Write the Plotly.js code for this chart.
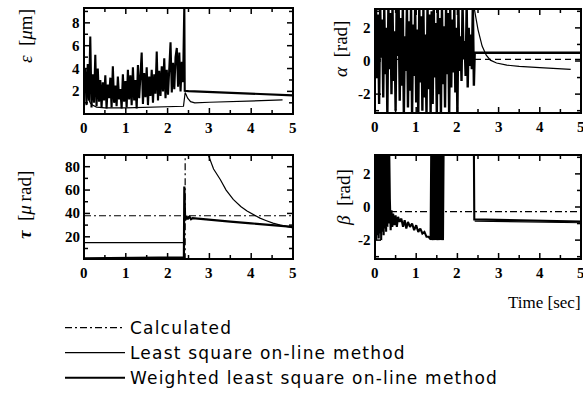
<!DOCTYPE html>
<html><head><meta charset="utf-8">
<script src="https://cdn.plot.ly/plotly-3.0.1.min.js"></script>
<style>html,body{margin:0;padding:0;background:#fff}#chart{width:583px;height:411px}
.legendtext{letter-spacing:1.2px}</style>
</head><body><div id="chart"></div>
<script>
// ---------- DATA ----------
// epsilon [um] : weighted least square (noisy, then steady)
const epsWtdT = [0,0.03,0.06,0.09,0.12,0.15,0.18,0.21,0.24,0.27,
0.3,0.33,0.36,0.39,0.42,0.45,0.48,0.51,0.54,0.57,
0.6,0.63,0.66,0.69,0.72,0.75,0.78,0.81,0.84,0.87,
0.9,0.93,0.96,0.99,1.02,1.05,1.08,1.11,1.14,1.17,
1.2,1.23,1.26,1.29,1.32,1.35,1.38,1.41,1.44,1.47,
1.5,1.53,1.56,1.59,1.62,1.65,1.68,1.71,1.74,1.77,
1.8,1.83,1.86,1.89,1.92,1.95,1.98,2.01,2.04,2.07,
2.1,2.13,2.16,2.19,2.22,2.25,2.28,2.31,2.34,2.37,
2.4,2.41,2.5,3.0,3.5,4.0,4.5,5.0];
const epsWtdV = [2.0,4.0,0.8,4.4,1.2,6.8,0.6,3.5,1.0,5.2,
0.7,4.0,1.1,3.0,0.6,2.8,1.2,3.4,0.5,2.6,
1.4,3.2,0.6,4.2,1.0,2.5,0.7,3.3,1.3,2.2,
0.5,3.5,1.1,2.9,0.6,3.9,1.3,3.4,0.8,4.1,
1.2,3.0,0.5,4.3,1.4,3.2,5.4,0.9,3.6,1.5,
4.1,0.8,3.3,1.6,3.9,1.0,3.5,1.8,5.5,1.2,
3.8,1.6,4.2,2.0,4.9,1.4,3.9,1.7,4.8,6.3,
1.9,4.5,2.2,5.0,5.8,2.4,5.4,2.0,4.6,2.8,
9.6,2.05,2.02,1.95,1.88,1.8,1.72,1.65];
const epsLsT = [0.05,0.1,0.15,0.2,0.3,0.5,1.0,1.5,2.0,2.38,2.42,2.48,2.55,2.65,3.0,3.5,4.0,4.5,4.75];
const epsLsV = [2.2,1.4,1.0,0.8,0.62,0.55,0.55,0.6,0.65,0.7,1.9,1.4,1.1,1.0,1.05,1.12,1.18,1.22,1.25];

// alpha [rad]
const alpWtdT = [0,0.025,0.05,0.075,0.1,0.125,0.15,0.175,0.2,0.225,
0.25,0.275,0.3,0.325,0.35,0.375,0.4,0.425,0.45,0.475,
0.5,0.525,0.55,0.575,0.6,0.625,0.65,0.675,0.7,0.725,
0.75,0.775,0.8,0.825,0.85,0.875,0.9,0.925,0.95,0.975,
1,1.025,1.05,1.075,1.1,1.125,1.15,1.175,1.2,1.225,
1.25,1.275,1.3,1.325,1.35,1.375,1.4,1.425,1.45,1.475,
1.5,1.525,1.55,1.575,1.6,1.625,1.65,1.675,1.7,1.725,
1.75,1.775,1.8,1.825,1.85,1.875,1.9,1.925,1.95,1.975,
2,2.025,2.05,2.075,2.1,2.125,2.15,2.175,2.2,2.225,
2.25,2.275,2.3,2.325,2.35,2.375,2.4,2.42,5.0];
const alpWtdV = [0.5,3.3,-1.0,2.8,-2.6,3.4,0.2,2.5,-2.2,3.2,
-0.8,2.0,-3.3,3.4,-0.5,2.9,-2.0,3.3,-1.2,1.8,
-3.0,3.4,0.3,3.1,-2.4,2.6,-1.5,3.4,-3.3,1.5,
-0.6,3.3,-2.8,2.4,-1.8,3.4,-3.3,2.2,-0.9,3.3,
-2.5,1.9,-3.3,3.4,-1.3,2.7,-3.0,3.2,-2.2,1.6,
-3.3,3.4,-1.7,2.8,-3.3,3.0,-2.6,3.4,-1.0,2.3,
-3.3,3.3,-2.0,2.6,-3.3,3.4,-1.4,2.1,-2.8,3.4,
-0.8,2.9,-3.3,3.3,-1.6,2.5,-0.7,3.4,-1.9,2.0,
-3.3,3.2,-0.6,1.5,-1.2,3.4,0.1,1.2,-0.9,3.4,
-1.6,2.0,-0.3,1.6,-0.5,3.4,-1.5,0.5,0.5];
const alpLsT = [2.4,2.5,2.6,2.7,2.8,2.95,3.2,3.5,4.0,4.4,4.75];
const alpLsV = [3.3,1.9,0.9,0.35,0.05,-0.12,-0.25,-0.33,-0.4,-0.45,-0.5];
const alpCalcT = [0,5];
const alpCalcV = [0.1,0.1];

// tau [urad]
const tauCalcT = [0,5];
const tauCalcV = [38,38];
const tauSwitchT = [2.42,2.42];
const tauSwitchV = [0,90];
const tauLsT = [0,2.4,null,2.9,2.98,3.1,3.26,3.4,3.57,3.75,3.9,4.05,4.21,4.35,4.52,4.7,4.88,5.0];
const tauLsV = [15,15,null,97,89,78,69,60,52,46,42,39,36,34,31.7,30,28.3,27.6];
const tauWtdT = [0,0.5,1.0,1.5,2.0,2.39,2.4,2.42,2.45,2.48,2.52,2.56,2.6,3.0,3.5,4.0,4.5,5.0];
const tauWtdV = [1.6,1.8,2.0,2.2,2.3,2.4,63,34,38,35,37.5,35,36,34.5,33,31.5,29.8,28.5];

// beta [rad]
const betWtdT = [0,0.015,0.03,0.045,0.06,0.075,0.09,0.105,0.12,0.135,0.15,0.165,
0.18,0.195,0.21,0.225,0.24,0.255,0.27,0.285,0.3,0.315,0.33,0.345,
0.36,0.38,0.4,0.42,0.44,0.47,0.5,0.53,0.56,0.6,0.64,0.68,0.72,0.76,0.8,0.85,
0.9,0.95,1.0,1.05,1.1,1.15,1.2,1.25,1.3,1.35,
1.365,1.38,1.395,1.41,1.425,1.44,1.455,1.47,1.485,1.5,1.515,1.53,1.545,1.56,
1.575,1.59,1.605,1.62,1.635,1.65,1.665,2.4,2.41,3.0,4.0,5.0];
const betWtdV = [-1.9,3.5,-2.0,3.5,-1.7,3.5,-1.9,3.5,-1.6,3.5,-2.0,3.5,
-1.5,3.5,-1.7,3.5,-1.3,3.5,-1.5,3.5,-1.2,3.5,-1.0,3.5,
0.5,-1.4,-0.2,-1.2,-0.4,-1.1,-0.5,-1.2,-0.6,-0.9,-0.7,-1.2,-0.8,-1.3,-0.9,-1.2,
-1.0,-1.4,-1.1,-1.5,-1.3,-1.6,-1.5,-1.8,-1.8,-1.95,
3.5,-2.0,3.5,-2.0,3.5,-2.0,3.5,-2.0,3.5,-2.0,3.5,-2.0,3.5,-2.0,
3.5,-2.0,3.5,-2.0,3.5,-2.0,3.5,3.5,-0.75,-0.78,-0.83,-0.88];
const betLsT = [2.42,3.0,4.0,5.0];
const betLsV = [-0.85,-0.88,-0.92,-0.95];
const betCalcT = [0,5];
const betCalcV = [-0.28,-0.28];

// tick labels
const xTickVals = [0,1,2,3,4,5];
const xTickText = ['0','1','2','3','4','5'];
const xMinorVals = [0.5,1.5,2.5,3.5,4.5];
const epsTickVals = [2,4,6,8];
const epsTickText = ['2','4','6','8'];
const epsMinorVals = [1,3,5,7,9];
const angTickVals = [-2,0,2];
const angTickText = ['-2','0','2'];
const angMinorVals = [-3,-1,1,3];
const tauTickVals = [20,40,60,80];
const tauTickText = ['20','40','60','80'];
const tauMinorVals = [10,30,50,70,90];

const seriesNames = ['Calculated','Least square on-line method','Weighted least square on-line method'];

// ---------- STYLE / LAYOUT ----------
const W = 583, H = 411;
const dx = (a,b)=>[a/W,b/W];
const dy = (top,bottom)=>[1-bottom/H,1-top/H];
const SERIF = '"Liberation Serif", "Times New Roman", serif';
const tickFont = {family:SERIF, size:15, color:'#000', weight:700};
const calcLine = {color:'#000', width:1.2, dash:'7px,3px,2px,3px'};
const lsLine = {color:'#000', width:1.2};
const wLine = {color:'#000', width:2.2};
const noiseLine = {color:'#000', width:2.1};

function tr(x,y,xa,ya,line,group,name,show){
  return {type:'scatter', mode:'lines', x, y, xaxis:xa, yaxis:ya, line, legendgroup:group,
          name, showlegend:!!show, hoverinfo:'skip'};
}
const data = [
  tr(tauCalcT,tauCalcV,'x3','y3',calcLine,'calc',seriesNames[0],true),
  tr(tauLsT,tauLsV,'x3','y3',lsLine,'ls',seriesNames[1],true),
  tr(tauWtdT,tauWtdV,'x3','y3',wLine,'wls',seriesNames[2],true),
  tr(tauSwitchT,tauSwitchV,'x3','y3',calcLine,'calc',seriesNames[0],false),
  tr(epsLsT,epsLsV,'x','y',lsLine,'ls',seriesNames[1],false),
  tr(epsWtdT,epsWtdV,'x','y',noiseLine,'wls',seriesNames[2],false),
  tr(alpCalcT,alpCalcV,'x2','y2',{color:'#000',width:1.3,dash:'6px,4px'},'calc',seriesNames[0],false),
  tr(alpLsT,alpLsV,'x2','y2',lsLine,'ls',seriesNames[1],false),
  tr(alpWtdT,alpWtdV,'x2','y2',{color:'#000',width:2.4},'wls',seriesNames[2],false),
  tr(betCalcT,betCalcV,'x4','y4',calcLine,'calc',seriesNames[0],false),
  tr(betLsT,betLsV,'x4','y4',lsLine,'ls',seriesNames[1],false),
  tr(betWtdT,betWtdV,'x4','y4',noiseLine,'wls',seriesNames[2],false)
];

function axis(domain, anchor, range){
  return {domain, anchor, range, ticks:'', showticklabels:false, showline:false,
    showgrid:false, zeroline:false, fixedrange:true};
}

// panel frames, inside ticks (top/bottom/left/right) and tick labels, placed through the axes
const panels = [
  {xa:'x',  ya:'y',  wpx:209, hpx:106, yT:epsTickVals, yTT:epsTickText, yM:epsMinorVals},
  {xa:'x2', ya:'y2', wpx:206, hpx:104, yT:angTickVals, yTT:angTickText, yM:angMinorVals},
  {xa:'x3', ya:'y3', wpx:209, hpx:104, yT:tauTickVals, yTT:tauTickText, yM:tauMinorVals},
  {xa:'x4', ya:'y4', wpx:206, hpx:104, yT:angTickVals, yTT:angTickText, yM:angMinorVals}
];
const shapes = [], tickAnn = [];
const tickLine = {color:'#000', width:1.5};
panels.forEach(p=>{
  const xd = p.xa+' domain', yd = p.ya+' domain';
  shapes.push({type:'rect', xref:xd, yref:yd, x0:0, x1:1, y0:0, y1:1,
               line:{color:'#000', width:2}, fillcolor:'rgba(0,0,0,0)', layer:'above'});
  const xt = (vals,len)=>vals.forEach(v=>{
    const f = len/p.hpx;
    shapes.push({type:'line', xref:p.xa, yref:yd, x0:v, x1:v, y0:0, y1:f, line:tickLine, layer:'above'});
    shapes.push({type:'line', xref:p.xa, yref:yd, x0:v, x1:v, y0:1, y1:1-f, line:tickLine, layer:'above'});
  });
  const yt = (vals,len)=>vals.forEach(v=>{
    const f = len/p.wpx;
    shapes.push({type:'line', xref:xd, yref:p.ya, x0:0, x1:f, y0:v, y1:v, line:tickLine, layer:'above'});
    shapes.push({type:'line', xref:xd, yref:p.ya, x0:1, x1:1-f, y0:v, y1:v, line:tickLine, layer:'above'});
  });
  xt(xTickVals,6); xt(xMinorVals,4); yt(p.yT,6); yt(p.yM,4);
  xTickVals.forEach((v,i)=>tickAnn.push({text:xTickText[i], xref:p.xa, yref:yd, x:v, y:0,
    xanchor:'center', yanchor:'top', yshift:-4, showarrow:false, font:tickFont}));
  p.yT.forEach((v,i)=>tickAnn.push({text:p.yTT[i], xref:xd, yref:p.ya, x:0, y:v,
    xanchor:'right', yanchor:'middle', xshift:-2, showarrow:false, font:tickFont}));
});

const titleFont = {family:SERIF, size:19, color:'#000'};
function yTitle(text, xpx, ypx){
  return {text, xref:'paper', yref:'paper', x:xpx/W, y:1-ypx/H, xanchor:'center', yanchor:'middle',
          textangle:-90, showarrow:false, font:titleFont};
}
const layout = {
  width:W, height:H, margin:{l:0,r:0,t:0,b:0}, paper_bgcolor:'#fff', plot_bgcolor:'#fff',
  font:{family:SERIF, size:15, color:'#000'},
  showlegend:true,
  xaxis: axis(dx(84,293),'y',[0,5]),
  yaxis: axis(dy(8,114),'x',[0.02,9.3]),
  xaxis2: axis(dx(375,581),'y2',[0,5]),
  yaxis2: axis(dy(9,113),'x2',[-3.14,3.14]),
  xaxis3: axis(dx(84,293),'y3',[0,5]),
  yaxis3: axis(dy(155,259),'x3',[1,90]),
  xaxis4: axis(dx(375,581),'y4',[0,5]),
  yaxis4: axis(dy(155,259),'x4',[-3.14,3.14]),
  legend:{x:60/W, y:1-310/H, xanchor:'left', yanchor:'top', bgcolor:'rgba(0,0,0,0)',
          font:{family:'"DejaVu Sans", sans-serif', size:17, color:'#000'},
          itemwidth:60, tracegroupgap:0, itemgap:4, traceorder:'normal'},
  shapes,
  annotations:[
    yTitle('<i>ε</i>\u2002[<i>μ</i>m]', 25, 36),
    yTitle('<i>α</i>\u2002[rad]', 341, 49),
    yTitle('<b><i>τ</i></b>\u2002[<i>μ</i>\u2009rad]', 25, 205),
    yTitle('<i>β</i>\u2002[rad]', 343, 198),
    {text:'Time [sec]', xref:'paper', yref:'paper', x:1, y:1-302/H, xanchor:'right', yanchor:'middle',
     showarrow:false, font:{family:SERIF, size:17, color:'#000'}}
  ].concat(tickAnn)
};
Plotly.newPlot('chart', data, layout, {staticPlot:true, displayModeBar:false});
</script>
</body></html>
